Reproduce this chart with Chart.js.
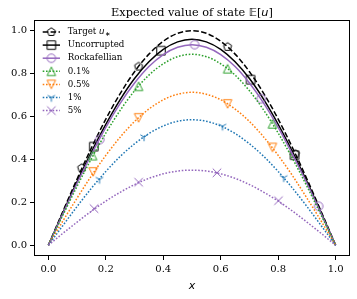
<!DOCTYPE html>
<html><head><meta charset="utf-8">
<script src="https://cdn.jsdelivr.net/npm/chart.js@4.4.1/dist/chart.umd.min.js"></script>
<style>html,body{margin:0;padding:0;background:#fff}canvas{display:block}</style>
</head><body>
<canvas id="c" width="357" height="299"></canvas>
<script>
// ---- data ----
const xGrid = [0,0.05,0.10,0.15,0.20,0.25,0.30,0.35,0.40,0.45,0.50,0.55,0.60,0.65,0.70,0.75,0.80,0.85,0.90,0.95,1.0];
const targetVals = [0,.156,.309,.454,.588,.707,.809,.891,.951,.988,1.000,.988,.951,.891,.809,.707,.588,.454,.309,.156,0];
const uncorruptedVals = [0,.150,.297,.436,.564,.679,.777,.855,.913,.948,.960,.948,.913,.855,.777,.679,.564,.436,.297,.150,0];
const rockVals = [0,.146,.289,.424,.550,.661,.756,.833,.889,.923,.935,.923,.889,.833,.756,.661,.550,.424,.289,.146,0];
const p01Vals = [0,.139,.275,.404,.523,.629,.720,.793,.846,.879,.890,.879,.846,.793,.720,.629,.523,.404,.275,.139,0];
const p05Vals = [0,.112,.220,.324,.419,.504,.577,.635,.678,.704,.713,.704,.678,.635,.577,.504,.419,.324,.220,.112,0];
const p1Vals = [0,.091,.181,.266,.344,.414,.473,.521,.556,.578,.585,.578,.556,.521,.473,.414,.344,.266,.181,.091,0];
const p5Vals = [0,.055,.108,.159,.206,.247,.283,.312,.333,.346,.350,.346,.333,.312,.283,.247,.206,.159,.108,.055,0];

// marker positions (x, y)
const targetMx = [0.116,0.314,0.624,0.860], targetMy = [0.360,0.833,0.925,0.426];
const uncMx = [0.158,0.392,0.704,0.857], uncMy = [0.460,0.907,0.772,0.420];
const rockMx = [0.179,0.509,0.741,0.941], rockMy = [0.493,0.935,0.683,0.182];
const p01Mx = [0.154,0.314,0.624,0.780], p01My = [0.418,0.741,0.823,0.566];
const p05Mx = [0.156,0.314,0.624,0.780], p05My = [0.342,0.594,0.659,0.456];
const p1Mx = [0.178,0.333,0.606,0.819], p1My = [0.307,0.505,0.555,0.315];
const p5Mx = [0.159,0.314,0.587,0.801], p5My = [0.171,0.294,0.338,0.208];

const seriesLabels = ['Target u*','Uncorrupted','Rockafellian','0.1%','0.5%','1%','5%'];
const tickVals = [0,0.2,0.4,0.6,0.8,1.0];
const tickLabels = ['0.0','0.2','0.4','0.6','0.8','1.0'];
const titleText = 'Expected value of state ';
const xLabel = 'x';

// ---- styles ----
const BLACK='#000000', PURPLE='#9467bd', GREEN='#2ca02c', ORANGE='#ff7f0e', BLUE='#1f77b4';
const MS = 8.5;
function makeMarker(shape, color){
  const S = 16, c = document.createElement('canvas'); c.width=S; c.height=S;
  const g = c.getContext('2d'); g.strokeStyle=color; g.lineWidth=1; g.translate(S/2,S/2);
  const r = MS/2;
  g.beginPath();
  if(shape==='pent'){ for(let i=0;i<5;i++){const a=-Math.PI/2+i*2*Math.PI/5; const px=r*Math.cos(a), py=r*Math.sin(a); i?g.lineTo(px,py):g.moveTo(px,py);} g.closePath(); }
  else if(shape==='square'){ g.rect(-r,-r,2*r,2*r); }
  else if(shape==='circle'){ g.arc(0,0,r,0,2*Math.PI); }
  else if(shape==='tup'){ g.moveTo(0,-r); g.lineTo(r,r); g.lineTo(-r,r); g.closePath(); }
  else if(shape==='tdown'){ g.moveTo(0,r); g.lineTo(r,-r); g.lineTo(-r,-r); g.closePath(); }
  else if(shape==='tri'){ g.moveTo(0,0); g.lineTo(0,r); g.moveTo(0,0); g.lineTo(0.866*r,-0.5*r); g.moveTo(0,0); g.lineTo(-0.866*r,-0.5*r); }
  else if(shape==='x'){ g.moveTo(-r,-r); g.lineTo(r,r); g.moveTo(r,-r); g.lineTo(-r,r); }
  g.stroke();
  return c;
}
const DASHED=[5.5,2.4], DOTTED=[1.6,1.7], SOLID=[];
const styles = [
  {color:BLACK, dash:DASHED, marker:makeMarker('pent',BLACK)},
  {color:BLACK, dash:SOLID, marker:makeMarker('square',BLACK)},
  {color:PURPLE, dash:SOLID, marker:makeMarker('circle',PURPLE)},
  {color:GREEN, dash:DOTTED, marker:makeMarker('tup',GREEN)},
  {color:ORANGE, dash:DOTTED, marker:makeMarker('tdown',ORANGE)},
  {color:BLUE, dash:DOTTED, marker:makeMarker('tri',BLUE)},
  {color:PURPLE, dash:DOTTED, marker:makeMarker('x',PURPLE)},
];
const curveVals = [targetVals,uncorruptedVals,rockVals,p01Vals,p05Vals,p1Vals,p5Vals];
const mxs = [targetMx,uncMx,rockMx,p01Mx,p05Mx,p1Mx,p5Mx];
const mys = [targetMy,uncMy,rockMy,p01My,p05My,p1My,p5My];

const datasets = [];
curveVals.forEach((vals,i)=>{
  const st = styles[i];
  datasets.push({label:seriesLabels[i], data:xGrid.map((x,j)=>({x, y:vals[j]})), borderColor:st.color,
    borderWidth:1.5, borderDash:st.dash, pointRadius:0, fill:false, cubicInterpolationMode:'monotone', order:10-i});
  datasets.push({label:seriesLabels[i]+' markers', data:mxs[i].map((x,j)=>({x, y:mys[i][j]})), showLine:false,
    pointStyle:st.marker, pointRadius:5, borderColor:st.color, order:10-i});
});

const deco = {
  id:'deco',
  afterDraw(chart){
    const ctx = chart.ctx, a = chart.chartArea;
    ctx.save();
    ctx.strokeStyle='#000'; ctx.lineWidth=1; ctx.setLineDash([]);
    ctx.strokeRect(Math.round(a.left)+0.5, Math.round(a.top)+0.5, Math.round(a.right-a.left)-1, Math.round(a.bottom-a.top)-1);
    // title
    const parts = [
      {t:titleText, f:'11.3px "DejaVu Serif"'},
      {t:'\u{1D53C}', f:'11.3px "DejaVu Sans"'},
      {t:'[', f:'11.3px "DejaVu Sans"'},
      {t:'u', f:'oblique 11.3px "DejaVu Sans"'},
      {t:']', f:'11.3px "DejaVu Sans"'},
    ];
    let w=0; parts.forEach(p=>{ctx.font=p.f; p.w=ctx.measureText(p.t).width; w+=p.w;});
    let x = (a.left+a.right)/2 - w/2;
    ctx.fillStyle='#000'; ctx.textBaseline='alphabetic'; ctx.textAlign='left';
    parts.forEach(p=>{ctx.font=p.f; ctx.fillText(p.t,x,15.5); x+=p.w;});
    // x label
    ctx.font='oblique 11px "DejaVu Sans"'; ctx.textAlign='center'; ctx.textBaseline='middle';
    ctx.fillText(xLabel,(a.left+a.right)/2,286);
    // legend
    const rows=[32,45.1,58.2,71.3,84.4,97.5,110.6];
    const x0=42.7, x1=60, tx=67.7;
    styles.forEach((st,i)=>{
      const y=rows[i];
      ctx.strokeStyle=st.color; ctx.lineWidth=1.5; ctx.setLineDash(st.dash);
      ctx.beginPath(); ctx.moveTo(x0,y); ctx.lineTo(x1,y); ctx.stroke();
      ctx.setLineDash([]);
      ctx.drawImage(st.marker,(x0+x1)/2-st.marker.width/2,y-st.marker.height/2);
      ctx.fillStyle='#000'; ctx.textAlign='left'; ctx.textBaseline='middle';
      if(i===0){
        ctx.font='8.7px "DejaVu Serif"'; const t='Target '; ctx.fillText(t,tx,y); let xx=tx+ctx.measureText(t).width;
        ctx.font='oblique 8.7px "DejaVu Sans"'; ctx.fillText('u',xx,y); xx+=ctx.measureText('u').width;
        ctx.font='6.5px "DejaVu Sans"'; ctx.fillText('\u2217',xx+0.3,y+2.2);
      } else {
        ctx.font='8.7px "DejaVu Serif"'; ctx.fillText(seriesLabels[i],tx,y);
      }
    });
    ctx.restore();
  }
};

const scaleCommon = (isX)=>({
  type:'linear', min:-0.05, max:1.05,
  afterBuildTicks(s){ s.ticks = tickVals.map(v=>({value:v})); },
  afterFit(s){ if(isX) s.height=43; else s.width=34; },
  grid:{display:true, drawOnChartArea:false, drawTicks:true, tickLength:4, color:'#000', lineWidth:1},
  border:{display:false},
  ticks:{font:{family:'DejaVu Serif', size:10}, color:'#000', padding:3,
    callback:(v)=>{const k=tickVals.indexOf(v); return k>=0?tickLabels[k]:'';}}
});

new Chart(document.getElementById('c'),{
  type:'line',
  data:{datasets},
  options:{
    responsive:false, animation:false, devicePixelRatio:1,
    layout:{padding:{top:20,right:7,left:0,bottom:0}},
    scales:{x:scaleCommon(true), y:scaleCommon(false)},
    plugins:{legend:{display:false}, title:{display:false}, tooltip:{enabled:false}},
    elements:{line:{tension:0}}
  },
  plugins:[deco]
});
</script>
</body></html>
